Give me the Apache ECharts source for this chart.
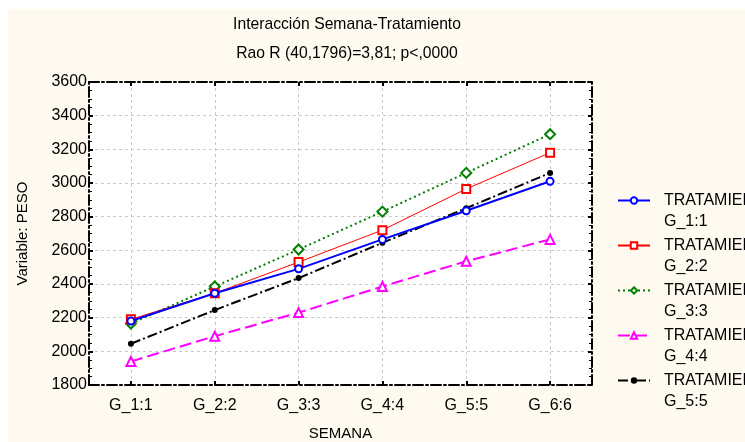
<!DOCTYPE html>
<html>
<head>
<meta charset="utf-8">
<script src="https://cdn.jsdelivr.net/npm/echarts@6/dist/echarts.min.js"></script>
<style>
  html, body { margin: 0; padding: 0; background: #ffffff; }
  #chart { width: 745px; height: 442px; }
</style>
</head>
<body>
<div id="chart"></div>
<script>
// Weekly group means of body weight per treatment
const semanas = ['G_1:1', 'G_2:2', 'G_3:3', 'G_4:4', 'G_5:5', 'G_6:6'];
const tratamientos = ['G_1:1', 'G_2:2', 'G_3:3', 'G_4:4', 'G_5:5'];
const peso_t1 = [2180, 2345, 2490, 2665, 2835, 3010];
const peso_t2 = [2190, 2345, 2530, 2720, 2965, 3180];
const peso_t3 = [2165, 2385, 2605, 2830, 3060, 3290];
const peso_t4 = [1940, 2090, 2230, 2385, 2535, 2665];
const peso_t5 = [2045, 2245, 2435, 2645, 2850, 3060];
const yTicks = [1800, 2000, 2200, 2400, 2600, 2800, 3000, 3200, 3400, 3600];

const FONT = '"Liberation Sans", Arial, sans-serif';
const FS = 16;
const dashDot = [10, 3, 2, 3];
const frameLine = { show: true, lineStyle: { color: '#000', width: 2, type: dashDot } };
const gridDash = { color: '#c8c8c8', width: 1, type: [3, 3] };

const styles = [
  { color: '#0000ff', width: 2, type: 'solid', symbol: 'emptyCircle', size: 7 },
  { color: '#ff0000', width: 1, type: 'solid', symbol: 'emptyRect', size: 8 },
  { color: '#008000', width: 2, type: [2, 3], symbol: 'emptyDiamond', size: 10 },
  { color: '#ff00ff', width: 2, type: [12, 5], symbol: 'emptyTriangle', size: 9 },
  { color: '#000000', width: 2, type: dashDot, symbol: 'circle', size: 6 }
];
const values = [peso_t1, peso_t2, peso_t3, peso_t4, peso_t5];

const series = tratamientos.map((t, i) => ({
  name: 'TRATAMIENTO ' + t,
  type: 'line',
  data: values[i],
  symbol: styles[i].symbol,
  symbolSize: styles[i].size,
  itemStyle: { color: styles[i].color, borderWidth: 2 },
  lineStyle: { color: styles[i].color, width: styles[i].width, type: styles[i].type },
  z: 10 - i,
  animation: false
}));

const chart = echarts.init(document.getElementById('chart'), null, { renderer: 'canvas' });
chart.setOption({
  backgroundColor: 'transparent',
  animation: false,
  textStyle: { fontFamily: FONT },
  graphic: [{
    type: 'rect', z: -10, silent: true,
    shape: { x: 8, y: 9, width: 745, height: 442 },
    style: { fill: '#fffaef' }
  }],
  title: [
    { text: 'Interacción Semana-Tratamiento', left: 342, textAlign: 'center', top: 12,
      textStyle: { fontSize: 15.7, fontWeight: 'normal', color: '#000', fontFamily: FONT } },
    { text: 'Rao R (40,1796)=3,81; p<,0000', left: 342, textAlign: 'center', top: 41,
      textStyle: { fontSize: 15.7, fontWeight: 'normal', color: '#000', fontFamily: FONT } }
  ],
  legend: {
    orient: 'vertical', left: 617, top: 169, padding: 0,
    itemWidth: 32, itemHeight: 8, itemGap: -18,
    data: tratamientos.map(t => 'TRATAMIENTO ' + t),
    formatter: name => ' \n' + name.replace(' ', '\n'),
    textStyle: { fontSize: FS, color: '#000', fontFamily: FONT, lineHeight: 21, padding: [0, 0, 0, 9] }
  },
  grid: {
    left: 89, right: 153, top: 82, bottom: 57, show: true, backgroundColor: '#ffffff', borderWidth: 0,
    outerBoundsMode: 'none', containLabel: false
  },
  xAxis: [{
    type: 'category', data: semanas, boundaryGap: true,
    name: 'SEMANA', nameLocation: 'middle', nameGap: 41,
    nameTextStyle: { fontSize: 15, color: '#000', fontFamily: FONT },
    axisLine: frameLine,
    axisTick: { show: true, alignWithLabel: true, inside: true, length: 4, lineStyle: { color: '#000', width: 2 } },
    axisLabel: { fontSize: FS, color: '#000', margin: 13, fontFamily: FONT },
    splitLine: { show: true, alignWithLabel: true, lineStyle: gridDash }
  }, {
    type: 'category', data: semanas, boundaryGap: true, position: 'top',
    axisLine: frameLine,
    axisTick: { show: true, alignWithLabel: true, inside: true, length: 4, lineStyle: { color: '#000', width: 2 } },
    axisLabel: { show: false },
    splitLine: { show: false }
  }],
  yAxis: [{
    type: 'value', min: yTicks[0], max: yTicks[yTicks.length - 1], interval: 200,
    name: 'Variable: PESO', nameLocation: 'middle', nameGap: 59,
    nameTextStyle: { fontSize: 15, color: '#000', fontFamily: FONT },
    axisLine: frameLine,
    axisTick: { show: true, inside: true, length: 4, lineStyle: { color: '#000', width: 2 } },
    minorTick: { show: true, splitNumber: 4, length: 3, lineStyle: { color: '#000', width: 1 } },
    axisLabel: { fontSize: FS, color: '#000', margin: 2, fontFamily: FONT, formatter: v => String(v) },
    splitLine: { show: true, lineStyle: gridDash }
  }, {
    type: 'value', min: yTicks[0], max: yTicks[yTicks.length - 1], interval: 200, position: 'right',
    axisLine: frameLine,
    axisTick: { show: true, inside: true, length: 4, lineStyle: { color: '#000', width: 2 } },
    minorTick: { show: true, splitNumber: 4, length: 3, lineStyle: { color: '#000', width: 1 } },
    axisLabel: { show: false },
    splitLine: { show: false }
  }],
  series: series
});
</script>
</body>
</html>
